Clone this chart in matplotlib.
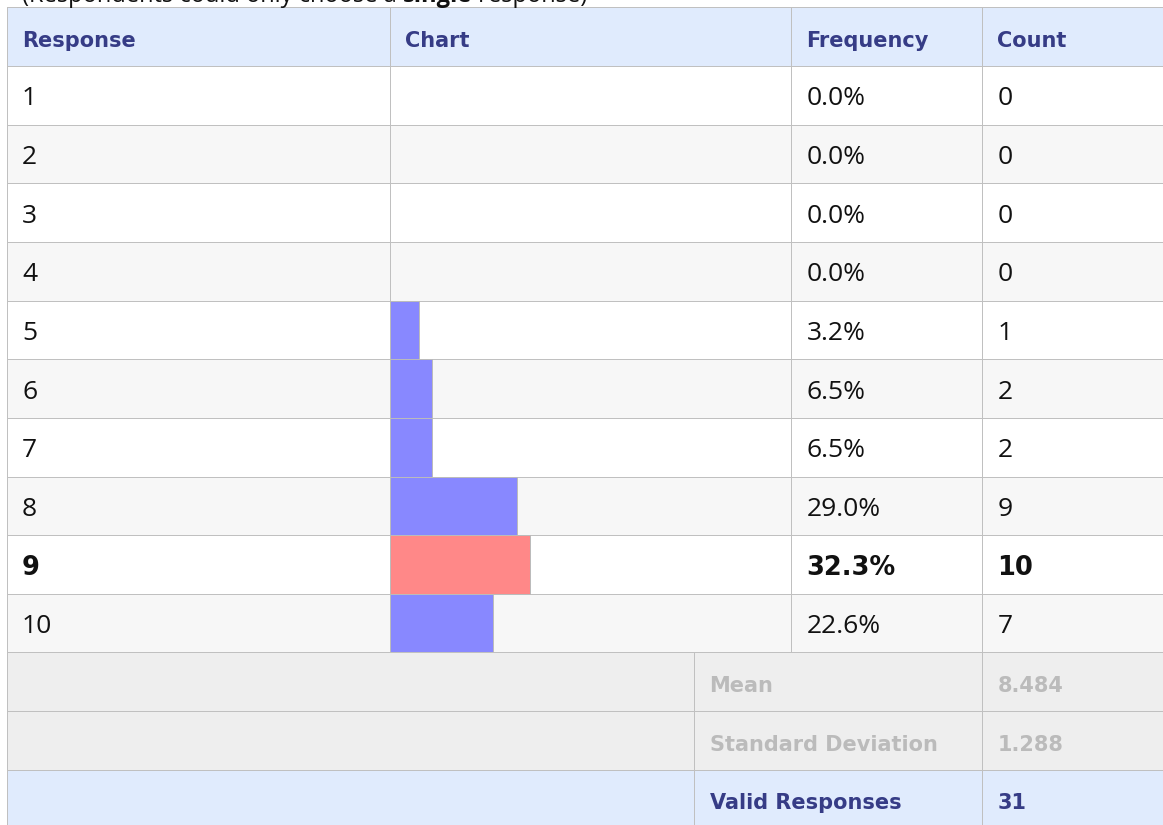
import matplotlib
matplotlib.use("Agg")
import matplotlib.pyplot as plt
from matplotlib.patches import Rectangle

# ---------------- data ----------------
responses = ["1", "2", "3", "4", "5", "6", "7", "8", "9", "10"]
frequency_pct = [0.0, 0.0, 0.0, 0.0, 3.2, 6.5, 6.5, 29.0, 32.3, 22.6]
counts = [0, 0, 0, 0, 1, 2, 2, 9, 10, 7]
headers = ["Response", "Chart", "Frequency", "Count"]
summary_labels = ["Mean", "Standard Deviation", "Valid Responses"]
summary_values = ["8.484", "1.288", "31"]
caption_pre = "(Respondents could only choose a "
caption_bold = "single"
caption_post = " response)"

# ---------------- layout (pixels) ----------------
W, H = 1163, 825
DPI = 100
x_left = 6.5
col_x = [x_left, 390.0, 791.0, 982.0]
x_right = W + 5
sum_split = 694.0
header_top = 7.3
row_h = 58.65
pad_x = 15.5
base_off = 39.5

HEADER_BG = "#e0ebfd"
ALT_BG = "#f7f7f7"
SUM_BG = "#eeeeee"
LINE = "#c0c0c0"
NAVY = "#363c86"
GREY_TXT = "#bbbbbb"
BLUE = "#8888ff"
RED = "#ff8888"

fig = plt.figure(figsize=(W / DPI, H / DPI), dpi=DPI)
ax = fig.add_axes([0, 0, 1, 1])
ax.set_xlim(0, W)
ax.set_ylim(H, 0)
ax.axis("off")

n = len(responses)
body_top = header_top + row_h
body_bot = body_top + n * row_h
sum_tops = [body_bot + i * row_h for i in range(len(summary_labels))]

# backgrounds
ax.add_patch(Rectangle((x_left, header_top), x_right - x_left, row_h, color=HEADER_BG, lw=0))
for i in range(n):
    y = body_top + i * row_h
    ax.add_patch(Rectangle((x_left, y), x_right - x_left, row_h,
                           color=("white" if i % 2 == 0 else ALT_BG), lw=0))
for i, y in enumerate(sum_tops):
    bg = HEADER_BG if i == len(summary_labels) - 1 else SUM_BG
    ax.add_patch(Rectangle((x_left, y), x_right - x_left, row_h, color=bg, lw=0))

# grid lines
lw = 1.0 * 72 / DPI
ys = [header_top] + [body_top + i * row_h for i in range(n + 1)] + [y + row_h for y in sum_tops]
for y in ys:
    ax.plot([x_left, x_right], [y, y], color=LINE, lw=lw, solid_capstyle="butt")
ax.plot([x_left, x_left], [header_top, H + 5], color=LINE, lw=lw)
for cx in col_x[1:]:
    ax.plot([cx, cx], [header_top, body_bot], color=LINE, lw=lw)
for cx in [sum_split, col_x[3]]:
    ax.plot([cx, cx], [body_bot, H + 5], color=LINE, lw=lw)

body_font = "Open Sans"
head_font = "DejaVu Sans"
body_size = 19
head_size = 15
bold_row_size = 18.5
cap_size = 17

# caption (clipped at top, as in the original)
fig.canvas.draw()
r = fig.canvas.get_renderer()
cx0 = 22
cap = ax.text(cx0, 1.8, caption_pre, fontsize=cap_size, family=body_font, va="baseline", color="#111111")
bb = cap.get_window_extent(r)
x2 = cx0 + bb.width
cap2 = ax.text(x2, 1.8, caption_bold, fontsize=cap_size, family=body_font, weight="bold",
               va="baseline", color="#111111")
bb2 = cap2.get_window_extent(r)
ax.text(x2 + bb2.width, 1.8, caption_post, fontsize=cap_size, family=body_font, va="baseline",
        color="#111111")

# header
for hx, htxt in zip(col_x, headers):
    ax.text(hx + pad_x, header_top + base_off, htxt, fontsize=head_size, family=head_font,
            weight="bold", color=NAVY, va="baseline")

# body rows
mode_idx = counts.index(max(counts))
for i in range(n):
    y = body_top + i * row_h + base_off
    if i == mode_idx:
        kw = dict(fontsize=bold_row_size, family=head_font, weight="bold")
    else:
        kw = dict(fontsize=body_size, family=body_font, weight="normal")
    ax.text(col_x[0] + pad_x, y, responses[i], color="#111111", va="baseline", **kw)
    ax.text(col_x[2] + pad_x, y, f"{frequency_pct[i]:.1f}%", color="#111111", va="baseline", **kw)
    ax.text(col_x[3] + pad_x, y, str(counts[i]), color="#111111", va="baseline", **kw)

# summary rows
for i, (lab, val) in enumerate(zip(summary_labels, summary_values)):
    last = i == len(summary_labels) - 1
    c = NAVY if last else GREY_TXT
    y = sum_tops[i] + base_off
    ax.text(sum_split + pad_x, y, lab, fontsize=head_size, family=head_font, weight="bold",
            color=c, va="baseline")
    ax.text(col_x[3] + pad_x, y, val, fontsize=head_size, family=head_font, weight="bold",
            color=c, va="baseline")

# bar chart column
px_per_pct = 3.8
bar_pad_pct = 4.47
chart_w = col_x[2] - col_x[1]
bax = fig.add_axes([col_x[1] / W, 1 - body_bot / H, chart_w / W, (body_bot - body_top) / H])
bax.set_xlim(0, chart_w / px_per_pct)
bax.set_ylim(n - 0.5, -0.5)
bax.axis("off")
bax.patch.set_alpha(0)
vals = [p + bar_pad_pct if c > 0 else 0 for p, c in zip(frequency_pct, counts)]
colors = [RED if i == mode_idx else BLUE for i in range(n)]
bars = bax.barh(range(n), vals, height=1.0, color=colors, edgecolor="#bbbbbb", linewidth=lw)
for b, c in zip(bars, counts):
    if c == 0:
        b.set_visible(False)

fig.savefig("out.png", dpi=DPI)
